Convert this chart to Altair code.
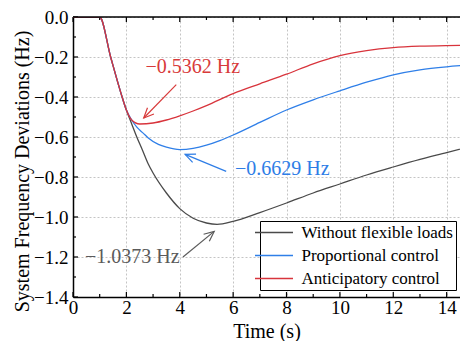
import math
import altair as alt
import pandas as pd

# ---------------- data ----------------
series_names = ["Without flexible loads", "Proportional control", "Anticipatory control"]
series_colors = ["#4a4a4a", "#2f7fe8", "#d8343c"]

t_without = [0, 1.0, 1.41, 1.84, 2.0, 2.2, 2.39, 2.6, 2.82, 3.0, 3.5, 4.0, 4.5, 5.0, 5.4, 6.0, 7.0, 8.0, 9.0, 10.0, 11.0, 12.0, 13.0, 14.0, 14.75]
f_without = [0, 0.0, -0.2, -0.4, -0.465, -0.535, -0.6, -0.665, -0.735, -0.78, -0.88, -0.958, -1.006, -1.03, -1.037, -1.022, -0.978, -0.93, -0.88, -0.835, -0.79, -0.75, -0.712, -0.678, -0.652]

t_prop = [0, 1.0, 1.41, 1.84, 2.0, 2.2, 2.4, 2.64, 2.82, 3.2, 3.5, 4.0, 4.5, 5.0, 5.5, 6.0, 7.0, 8.0, 9.0, 10.0, 11.0, 12.0, 13.0, 14.0, 14.75]
f_prop = [0, 0.0, -0.2, -0.4, -0.465, -0.515, -0.552, -0.582, -0.605, -0.637, -0.651, -0.663, -0.657, -0.641, -0.618, -0.59, -0.527, -0.465, -0.414, -0.369, -0.326, -0.289, -0.264, -0.249, -0.241]

t_antic = [0, 1.0, 1.41, 1.84, 2.0, 2.2, 2.5, 3.0, 3.5, 4.0, 4.5, 5.0, 6.0, 7.0, 8.0, 9.0, 10.0, 11.0, 12.0, 13.0, 14.0, 14.75]
f_antic = [0, 0.0, -0.2, -0.4, -0.465, -0.515, -0.535, -0.53, -0.515, -0.494, -0.47, -0.443, -0.383, -0.334, -0.286, -0.234, -0.193, -0.168, -0.153, -0.146, -0.143, -0.142]

# annotations
ann_text = ["\u22120.5362 Hz", "\u22120.6629 Hz", "\u22121.0373 Hz"]
ann_colors = ["#d83a3a", "#2e7de6", "#5a5a5a"]
ann_tx = [4.49, 7.84, 2.22]
ann_fy = [-0.252, -0.762, -1.200]
arrow_t0 = [3.87, 5.74, 4.12]
arrow_f0 = [-0.338, -0.772, -1.200]
arrow_t1 = [2.65, 4.20, 5.29]
arrow_f1 = [-0.505, -0.687, -1.072]

# axis ticks
xt_major = [0, 2, 4, 6, 8, 10, 12, 14]
xt_minor = [1, 3, 5, 7, 9, 11, 13]
yt_major = [0.0, -0.2, -0.4, -0.6, -0.8, -1.0, -1.2, -1.4]
yt_minor = [-0.1, -0.3, -0.5, -0.7, -0.9, -1.1, -1.3]

X_DOMAIN = [0, 14.5]
Y_DOMAIN = [-1.4, 0.0]

# ---------------- layout / style ----------------
W, H = 387, 280
FONT = "Liberation Serif"

xs = alt.Scale(domain=X_DOMAIN, nice=False, zero=False)
ys = alt.Scale(domain=Y_DOMAIN, nice=False, zero=False)

xaxis = alt.Axis(
    values=xt_major, format="d", title="Time (s)",
    titleFont=FONT, titleFontSize=20, titleFontWeight="normal", titleColor="black",
    titleBaseline="alphabetic", titleY=40,
    labelFont=FONT, labelFontSize=19, labelColor="black", labelPadding=1,
    labelFlush=False, labelOverlap=False,
    ticks=False, domainColor="black", domainWidth=1.5,
    grid=True, gridColor="#c4c4c4", gridDash=[2, 2], gridWidth=1,
)
yaxis = alt.Axis(
    values=yt_major, format=".1f", title="System Frequency Deviations (Hz)",
    titleFont=FONT, titleFontSize=20, titleFontWeight="normal", titleColor="black",
    titleAngle=270, titleBaseline="alphabetic", titleAlign="center",
    titleX=-45, titleY=154,
    labelFont=FONT, labelFontSize=19, labelColor="black", labelPadding=5,
    labelFlush=False, labelOverlap=False,
    ticks=False, domainColor="black", domainWidth=1.5,
    grid=True, gridColor="#c4c4c4", gridDash=[2, 2], gridWidth=1,
)


def X(field):
    return alt.X(field + ":Q", scale=xs, axis=xaxis)


def Y(field):
    return alt.Y(field + ":Q", scale=ys, axis=yaxis)


color_scale = alt.Scale(domain=series_names, range=series_colors)
legend = alt.Legend(
    title=None, orient="none", legendX=187, legendY=204, direction="vertical",
    labelFont=FONT, labelFontSize=17, labelColor="black",
    symbolType="M -3.8 0 L 3.8 0", symbolSize=100, symbolStrokeWidth=1.5,
    symbolOffset=2.5, labelOffset=19, rowPadding=5, padding=3,
    strokeColor="black", fillColor="white",
)

layers = []

# inward tick marks
tick_specs = [
    (xt_major, "x", "bottom", 5), (xt_minor, "x", "bottom", 3),
    (xt_major, "x", "top", 5), (xt_minor, "x", "top", 3),
    (yt_major, "y", "left", 5), (yt_minor, "y", "left", 3),
]
for vals, ch, side, ln in tick_specs:
    if ch == "x":
        d = pd.DataFrame({"t": vals})
        if side == "bottom":
            enc = dict(x=X("t"), y=alt.value(H), y2=alt.value(H - ln))
        else:
            enc = dict(x=X("t"), y=alt.value(0), y2=alt.value(ln))
    else:
        d = pd.DataFrame({"f": vals})
        enc = dict(y=Y("f"), x=alt.value(0), x2=alt.value(ln))
    layers.append(alt.Chart(d).mark_rule(color="black", strokeWidth=1.2).encode(**enc))

# curves
for name, ts, fs in [(series_names[0], t_without, f_without),
                     (series_names[1], t_prop, f_prop),
                     (series_names[2], t_antic, f_antic)]:
    d = pd.DataFrame({"t": ts, "f": fs, "series": name})
    layers.append(
        alt.Chart(d).mark_line(strokeWidth=1.3, interpolate="monotone", clip=True).encode(
            x=X("t"), y=Y("f"),
            color=alt.Color("series:N", scale=color_scale, legend=legend),
        )
    )

# top border
layers.append(
    alt.Chart(pd.DataFrame({"f": [Y_DOMAIN[1]]})).mark_rule(color="black", strokeWidth=1.5).encode(y=Y("f"))
)

# annotations
px_x = W / (X_DOMAIN[1] - X_DOMAIN[0])
px_y = H / (Y_DOMAIN[1] - Y_DOMAIN[0])
for i in range(3):
    col = ann_colors[i]
    dt = pd.DataFrame({"t": [ann_tx[i]], "f": [ann_fy[i]], "label": [ann_text[i]]})
    layers.append(
        alt.Chart(dt).mark_text(font=FONT, fontSize=20, align="center", baseline="middle", color=col)
        .encode(x=X("t"), y=Y("f"), text="label:N")
    )
    da = pd.DataFrame({"t0": [arrow_t0[i]], "f0": [arrow_f0[i]], "t1": [arrow_t1[i]], "f1": [arrow_f1[i]]})
    layers.append(
        alt.Chart(da).mark_rule(color=col, strokeWidth=1.2)
        .encode(x=X("t0"), y=Y("f0"), x2="t1:Q", y2="f1:Q")
    )
    dx = (arrow_t1[i] - arrow_t0[i]) * px_x
    dy = -(arrow_f1[i] - arrow_f0[i]) * px_y
    ang = math.degrees(math.atan2(dx, -dy)) % 360
    dh = pd.DataFrame({"t": [arrow_t1[i]], "f": [arrow_f1[i]]})
    layers.append(
        alt.Chart(dh).mark_point(shape="M -0.45 1 L 0 0 L 0.45 1", filled=False, size=400,
                                 strokeWidth=1.2, color=col, opacity=1, angle=ang)
        .encode(x=X("t"), y=Y("f"))
    )

chart = (
    alt.layer(*layers)
    .properties(width=W, height=H, autosize=alt.AutoSizeParams(type="none"),
                padding={"left": 65, "top": 9, "right": 0, "bottom": 44})
    .configure_view(stroke="transparent")
    .configure_legend(strokeWidth=1, cornerRadius=0)
)

chart.save("out.html", embed_options={"renderer": "svg", "actions": False})
